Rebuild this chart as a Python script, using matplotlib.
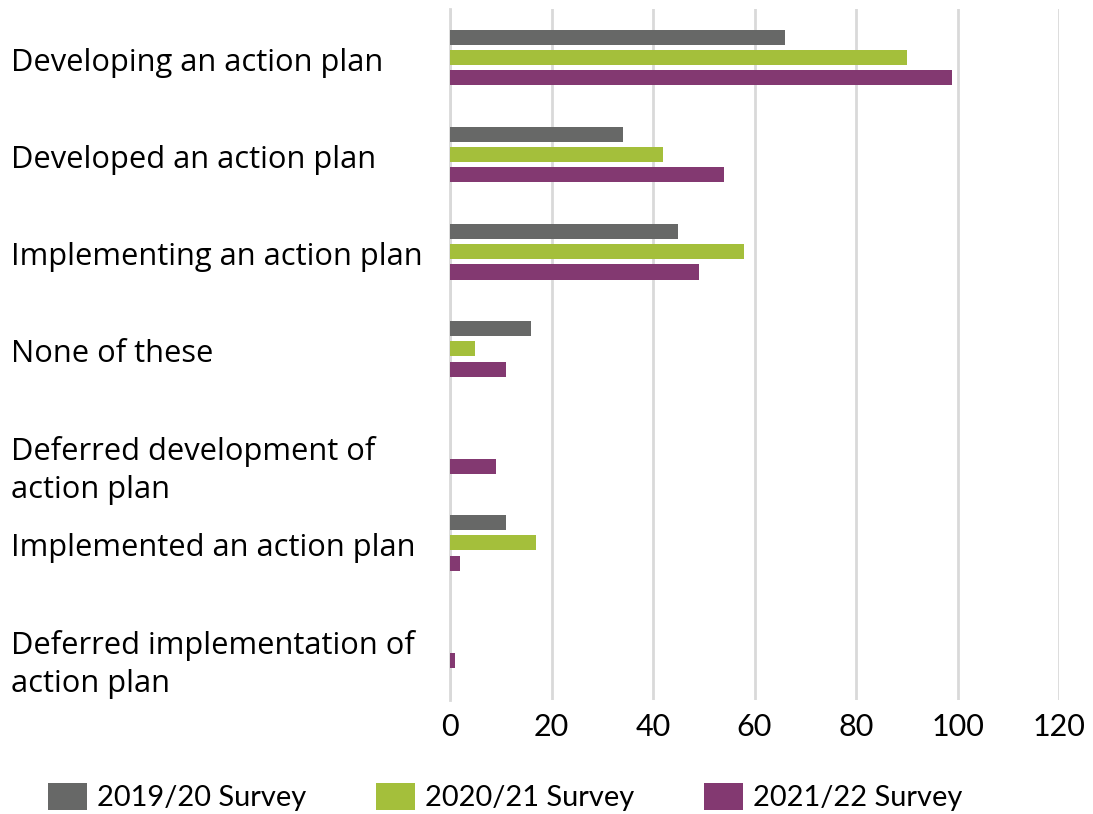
import numpy as np
import matplotlib
matplotlib.use("Agg")
import matplotlib.pyplot as plt
from matplotlib.patches import Patch
from matplotlib.transforms import blended_transform_factory

plt.rcParams['font.family'] = ['Lato', 'DejaVu Sans']

categories = [
    "Developing an action plan",
    "Developed an action plan",
    "Implementing an action plan",
    "None of these",
    "Deferred development of\naction plan",
    "Implemented an action plan",
    "Deferred implementation of\naction plan",
]
series_names = ["2019/20 Survey", "2020/21 Survey", "2021/22 Survey"]
survey_2019 = [66, 34, 45, 16, np.nan, 11, np.nan]
survey_2020 = [90, 42, 58, 5, np.nan, 17, np.nan]
survey_2021 = [99, 54, 49, 11, 9, 2, 1]
x_ticks = [0, 20, 40, 60, 80, 100, 120]

colors = ["#676867", "#a4bf3b", "#833971"]

W, H = 1093, 814
fig = plt.figure(figsize=(W / 100, H / 100), dpi=100)
ax = fig.add_axes([450 / W, 1 - 700 / H, (1059 - 450) / W, 691 / H])

y = np.arange(len(categories))
bar_h = 0.155
step = 0.21
for k, (vals, col) in enumerate(zip([survey_2019, survey_2020, survey_2021], colors)):
    ax.barh(y + (k - 1) * step, vals, height=bar_h, color=col, zorder=3)

ax.set_xlim(0, 120)
ax.set_ylim(6.62, -0.5)
ax.set_xticks(x_ticks)
ax.set_xticklabels([str(t) for t in x_ticks], fontsize=22)
ax.tick_params(axis='x', length=0, pad=9)
ax.set_yticks([])
ax.grid(axis='x', color='#d9d9d9', linewidth=2, zorder=0)
for side in ['top', 'right', 'bottom']:
    ax.spines[side].set_visible(False)
ax.spines['left'].set_color('#d9d9d9')
ax.spines['left'].set_linewidth(2)

# category labels, left aligned at the figure edge
trans = blended_transform_factory(fig.transFigure, ax.transData)
line_step = 0.40
for i, label in enumerate(categories):
    for j, line in enumerate(label.split("\n")):
        ax.text(11 / W, i + j * line_step + 0.055, line, transform=trans,
                ha='left', va='center', fontsize=22.2, clip_on=False,
                family=['Open Sans', 'DejaVu Sans'])

handles = [Patch(facecolor=c, edgecolor='none') for c in colors]
fig.legend(handles, series_names, loc='center left',
           bbox_to_anchor=(36 / W, 1 - 797 / H), ncol=3, frameon=False,
           fontsize=20.9, handlelength=1.35, handleheight=1.1,
           handletextpad=0.35, columnspacing=2.4, borderaxespad=0)

fig.savefig("out.png", dpi=100)
